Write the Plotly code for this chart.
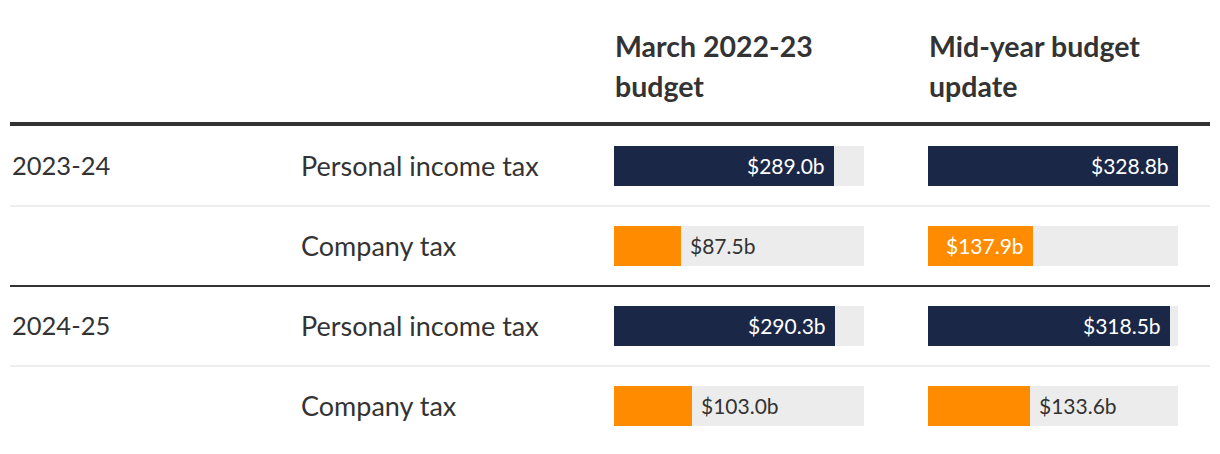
import plotly.graph_objects as go

# ---- data ----
years = ["2023-24", "", "2024-25", ""]
taxes = ["Personal income tax", "Company tax", "Personal income tax", "Company tax"]
march_budget = [289.0, 87.5, 290.3, 103.0]
midyear_update = [328.8, 137.9, 318.5, 133.6]
column_titles = [["March 2022-23", "budget"], ["Mid-year budget", "update"]]

NAVY = "#1b2747"
ORANGE = "#ff8c00"
BG = "#ececec"
TXT = "#333333"
FONT = "Lato"

W, H = 1220, 454
vmax = max(march_budget + midyear_update)
rows = list(range(len(taxes)))
colors = [NAVY if t.startswith("Personal") else ORANGE for t in taxes]

fig = go.Figure()
cols = [(march_budget, "x", "y"), (midyear_update, "x2", "y")]
for vals, xa, ya in cols:
    fig.add_trace(go.Bar(x=[vmax] * len(vals), y=rows, orientation="h", width=0.5,
                         marker=dict(color=BG, line=dict(width=0)), xaxis=xa, yaxis=ya,
                         hoverinfo="skip", showlegend=False))
    fig.add_trace(go.Bar(x=vals, y=rows, orientation="h", width=0.5,
                         marker=dict(color=colors, line=dict(width=0)), xaxis=xa, yaxis=ya,
                         showlegend=False))

annotations = []
threshold = 135
for vals, xa, ya in cols:
    for r, v in zip(rows, vals):
        inside = v > threshold
        annotations.append(dict(
            x=v, y=r, xref=xa, yref=ya, text=f"${v:.1f}b", showarrow=False,
            xanchor="right" if inside else "left", xshift=-7 if inside else 7,
            yshift=1,
            font=dict(family=FONT, size=21, color="white" if inside else TXT)))

for r, (yr, tx) in enumerate(zip(years, taxes)):
    if yr:
        annotations.append(dict(x=10 / W, y=r, xref="paper", yref="y", text=yr,
                                showarrow=False, xanchor="left", yshift=1,
                                font=dict(family=FONT, size=25.5, color=TXT)))
    annotations.append(dict(x=299 / W, y=r, xref="paper", yref="y", text=tx,
                            showarrow=False, xanchor="left", yshift=1,
                            font=dict(family=FONT, size=27, color=TXT)))

col_x = [613 / W, 927 / W]
for cx, lines in zip(col_x, column_titles):
    for k, line in enumerate(lines):
        annotations.append(dict(x=cx, y=1 - (46 + 40 * k) / H, xref="paper", yref="paper",
                                text=f"<b>{line}</b>", showarrow=False, xanchor="left",
                                yanchor="middle",
                                font=dict(family=FONT, size=28.5, color=TXT)))

shapes = [dict(type="line", xref="paper", yref="y", x0=10 / W, x1=1210 / W,
               y0=-0.525, y1=-0.525, line=dict(color=TXT, width=4))]
for r in rows[:-1]:
    dark = years[r + 1] != ""
    shapes.append(dict(type="line", xref="paper", yref="y", x0=10 / W, x1=1210 / W,
                       y0=r + 0.5, y1=r + 0.5,
                       line=dict(color=TXT if dark else "#eeeeee", width=2)))

axis_common = dict(showgrid=False, zeroline=False, showticklabels=False, fixedrange=True,
                   range=[0, vmax])
fig.update_layout(
    width=W, height=H, margin=dict(l=0, r=0, t=0, b=0),
    paper_bgcolor="white", plot_bgcolor="white", barmode="overlay", bargap=0,
    xaxis=dict(domain=[614 / W, 864 / W], **axis_common),
    xaxis2=dict(domain=[928 / W, 1178 / W], **axis_common),
    yaxis=dict(range=[(H - 166) / 80, -166 / 80], showgrid=False, zeroline=False,
               showticklabels=False, fixedrange=True),
    annotations=annotations, shapes=shapes,
)
fig.write_html("out.html")
